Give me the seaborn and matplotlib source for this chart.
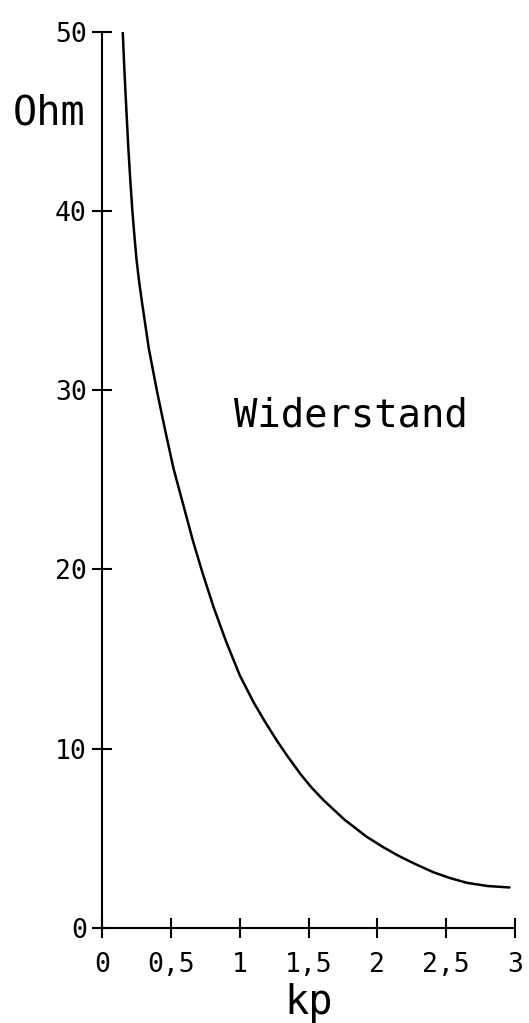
import matplotlib
matplotlib.use("Agg")
import matplotlib.pyplot as plt
import seaborn as sns
import pandas as pd

# Data
kp = [0.15, 0.16, 0.17, 0.18, 0.19, 0.205, 0.22, 0.235, 0.25, 0.27, 0.29,
      0.34, 0.40, 0.46, 0.52, 0.59, 0.66, 0.73, 0.81, 0.90, 1.00, 1.10,
      1.18, 1.27, 1.35, 1.44, 1.52, 1.61, 1.76, 1.92, 2.04, 2.16, 2.28,
      2.41, 2.53, 2.65, 2.80, 2.96]
ohm = [50.0, 48.2, 46.6, 45.1, 43.6, 41.7, 40.0, 38.6, 37.3, 36.0, 34.9,
       32.3, 29.9, 27.7, 25.6, 23.6, 21.6, 19.8, 17.9, 16.0, 14.1, 12.6,
       11.55, 10.45, 9.55, 8.6, 7.85, 7.12, 6.05, 5.1, 4.52, 4.0, 3.55,
       3.1, 2.78, 2.52, 2.34, 2.26]
x_ticks = [0, 0.5, 1, 1.5, 2, 2.5, 3]
x_tick_labels = ["0", "0,5", "1", "1,5", "2", "2,5", "3"]
y_ticks = [0, 10, 20, 30, 40, 50]
y_tick_labels = ["0", "10", "20", "30", "40", "50"]

sns.set_theme(style="white")
plt.rcParams["font.family"] = ["DejaVu Sans Mono", "DejaVu Sans"]

fig = plt.figure(figsize=(5.29, 10.23), dpi=100)
ax = fig.add_axes([0.193, 0.0929, 0.7805, 0.8761])

df = pd.DataFrame({"kp": kp, "Ohm": ohm})
sns.lineplot(data=df, x="kp", y="Ohm", ax=ax, color="black", linewidth=1.8,
             sort=False)

ax.set_xlim(0, 3)
ax.set_ylim(0, 50)
ax.set_xticks(x_ticks)
ax.set_xticklabels(x_tick_labels)
ax.set_yticks(y_ticks)
ax.set_yticklabels(y_tick_labels)

for s in ["top", "right"]:
    ax.spines[s].set_visible(False)
for s in ["left", "bottom"]:
    ax.spines[s].set_color("black")
    ax.spines[s].set_linewidth(1.5)

ax.tick_params(axis="both", which="major", bottom=True, left=True,
               direction="inout", length=14, width=1.5,
               colors="black", labelsize=19, pad=4)
ax.tick_params(axis="x", pad=10)

ax.set_xlabel("kp", fontsize=29, labelpad=4, color="black")
ax.set_ylabel("")
ax.text(-0.128, 0.909, "Ohm", transform=ax.transAxes, fontsize=29,
        ha="center", va="center", color="black")
ax.text(1.81, 28.6, "Widerstand", fontsize=28, ha="center", va="center",
        color="black")

fig.savefig("out.png", dpi=100)
